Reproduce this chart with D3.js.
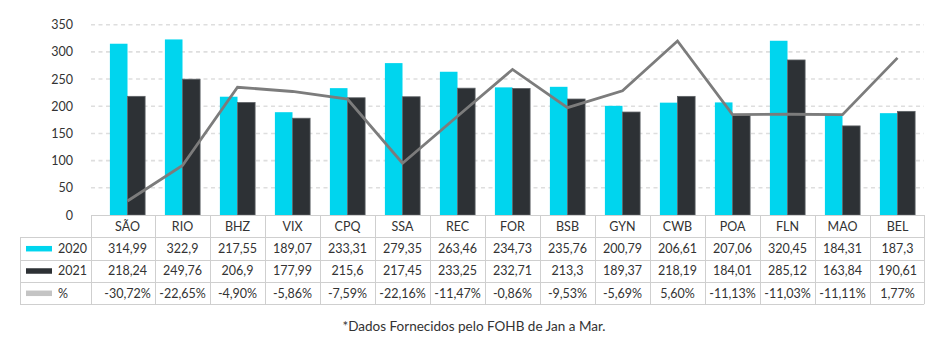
<!DOCTYPE html>
<html>
<head>
<meta charset="utf-8">
<script src="https://cdn.jsdelivr.net/npm/d3@7/dist/d3.min.js"></script>
<style>
  html, body { margin: 0; padding: 0; background: #fff; }
  svg { display: block; font-family: Lato, "Open Sans", sans-serif; }
</style>
</head>
<body>
<svg id="chart" width="948" height="341"></svg>
<script>
// Airports (categories)
const categories = ["SÃO","RIO","BHZ","VIX","CPQ","SSA","REC","FOR","BSB","GYN","CWB","POA","FLN","MAO","BEL"];
// Values for 2020 and 2021
const values2020 = [314.99,322.9,217.55,189.07,233.31,279.35,263.46,234.73,235.76,200.79,206.61,207.06,320.45,184.31,187.3];
const values2021 = [218.24,249.76,206.9,177.99,215.6,217.45,233.25,232.71,213.3,189.37,218.19,184.01,285.12,163.84,190.61];
// Variation 2021 vs 2020, in percent
const variation = [-30.72,-22.65,-4.90,-5.86,-7.59,-22.16,-11.47,-0.86,-9.53,-5.69,5.60,-11.13,-11.03,-11.11,1.77];
// Left axis ticks
const yTicks = [0,50,100,150,200,250,300,350];
const seriesNames = ["2020","2021","%"];
const footnote = "*Dados Fornecidos pelo FOHB de Jan a Mar.";

const colors = { "2020": "#00d5ee", "2021": "#2d3135", "%": "#c4c4c4" };
const lineColor = "#7c7c7c";
const textColor = "#333";
const tableLine = "#cfcfcf";

const svg = d3.select("#chart");

const plotLeft = 100, plotRight = 925, plotTop = 24.7, plotBottom = 215;
const tableLeft = 20, labelColRight = 91;
const rowH = 22.3;

const x = d3.scaleBand().domain(categories).range([plotLeft, plotRight]).padding(0);
const bw = x.bandwidth();
const xs = d3.scaleBand().domain(["2020","2021"]).range([bw * 0.18, bw * 0.82]).padding(0);
const y = d3.scaleLinear().domain([0, 350]).range([plotBottom, plotTop]);
// Secondary (hidden) scale for the variation line
const y2 = d3.scaleLinear().domain([-33.9, 9.3]).range([plotBottom, plotTop]);

// Gridlines
svg.append("g").selectAll("line")
  .data(yTicks.filter(t => t > 0))
  .join("line")
  .attr("x1", labelColRight).attr("x2", plotRight - 1)
  .attr("y1", d => y(d)).attr("y2", d => y(d))
  .attr("stroke", "#dedede").attr("stroke-width", 1.6)
  .attr("stroke-dasharray", "4,3.5");

// Y axis labels
const yAxis = d3.axisLeft(y).tickValues(yTicks).tickSize(0).tickPadding(0);
const gy = svg.append("g").attr("transform", "translate(73,0)").call(yAxis);
gy.select(".domain").remove();
gy.selectAll("text").attr("fill", textColor).style("font-size", "12.5px")
  .style("font-family", "Lato, sans-serif");

// Bars
const groups = svg.append("g").selectAll("g")
  .data(categories.map((c, i) => ({ c, v: [["2020", values2020[i]], ["2021", values2021[i]]] })))
  .join("g")
  .attr("transform", d => `translate(${x(d.c)},0)`);

groups.selectAll("rect")
  .data(d => d.v)
  .join("rect")
  .attr("x", d => xs(d[0]))
  .attr("width", xs.bandwidth())
  .attr("y", d => y(d[1]))
  .attr("height", d => plotBottom - y(d[1]))
  .attr("fill", d => colors[d[0]])
  .attr("stroke", d => d[0] === "2021" ? "#5e6266" : "none")
  .attr("stroke-width", 0.8);

// Variation line
const line = d3.line()
  .x((d, i) => x(categories[i]) + bw / 2)
  .y(d => y2(d));
svg.append("path")
  .datum(variation)
  .attr("d", line)
  .attr("fill", "none")
  .attr("stroke", lineColor)
  .attr("stroke-width", 2.8)
  .attr("stroke-linejoin", "miter");

// Data table
const table = svg.append("g");
const fmt = v => String(v).replace(".", ",");
const fmtPct = v => v.toFixed(2).replace(".", ",") + "%";
const rows = [
  { name: "2020", vals: values2020.map(fmt) },
  { name: "2021", vals: values2021.map(fmt) },
  { name: "%", vals: variation.map(fmtPct) }
];
const tableBottom = plotBottom + rowH * 4;

// Horizontal rules
table.append("line")
  .attr("x1", labelColRight).attr("x2", plotRight - 1)
  .attr("y1", plotBottom + 0.5).attr("y2", plotBottom + 0.5)
  .attr("stroke", tableLine);
for (let r = 1; r <= 4; r++) {
  const yy = Math.round(plotBottom + rowH * r) + 0.5;
  table.append("line")
    .attr("x1", tableLeft).attr("x2", plotRight - 1)
    .attr("y1", yy).attr("y2", yy)
    .attr("stroke", tableLine);
}
// Vertical rules
table.append("line")
  .attr("x1", tableLeft + 0.5).attr("x2", tableLeft + 0.5)
  .attr("y1", plotBottom + rowH).attr("y2", tableBottom)
  .attr("stroke", tableLine);
table.append("line")
  .attr("x1", labelColRight + 0.5).attr("x2", labelColRight + 0.5)
  .attr("y1", plotBottom).attr("y2", tableBottom)
  .attr("stroke", tableLine);
table.selectAll("line.col")
  .data(categories.slice(1).concat(["__end"]))
  .join("line")
  .attr("class", "col")
  .attr("x1", (d, i) => Math.round(i < categories.length - 1 ? x(d) : plotRight - 1) + 0.5)
  .attr("x2", (d, i) => Math.round(i < categories.length - 1 ? x(d) : plotRight - 1) + 0.5)
  .attr("y1", plotBottom).attr("y2", tableBottom)
  .attr("stroke", tableLine);

// Category header row
table.selectAll("text.cat")
  .data(categories)
  .join("text")
  .attr("class", "cat")
  .attr("x", d => x(d) + bw / 2)
  .attr("y", plotBottom + rowH / 2)
  .attr("dy", "0.36em")
  .attr("text-anchor", "middle")
  .attr("fill", textColor)
  .style("font-size", "12.5px")
  .text(d => d);

// Value rows with legend keys
rows.forEach((row, r) => {
  const cy = plotBottom + rowH * (r + 1) + rowH / 2;
  table.append("rect")
    .attr("x", 26).attr("y", cy - 2.5)
    .attr("width", 26).attr("height", 5.5)
    .attr("fill", colors[row.name]);
  table.append("text")
    .attr("x", 58).attr("y", cy).attr("dy", "0.36em")
    .attr("fill", textColor).style("font-size", "12.5px")
    .text(row.name);
  table.selectAll(null)
    .data(row.vals)
    .join("text")
    .attr("x", (d, i) => x(categories[i]) + bw / 2)
    .attr("y", cy).attr("dy", "0.36em")
    .attr("text-anchor", "middle")
    .attr("fill", textColor)
    .style("font-size", "12.5px")
    .text(d => d);
});

// Footnote
svg.append("text")
  .attr("x", 474).attr("y", 330.5)
  .attr("text-anchor", "middle")
  .attr("fill", textColor)
  .style("font-size", "13.5px")
  .text(footnote);
</script>
</body>
</html>
